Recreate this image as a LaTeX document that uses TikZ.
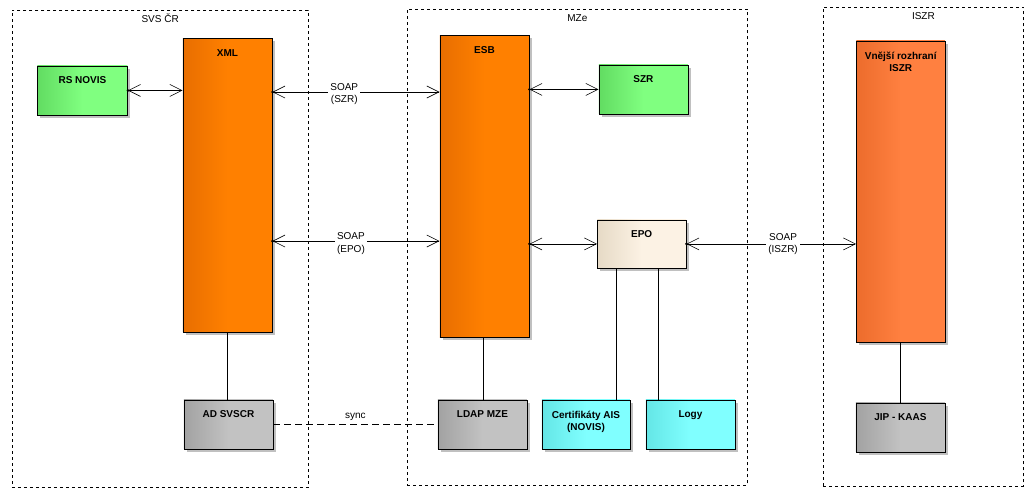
\documentclass[tikz,border=0pt]{standalone}
\usepackage{fontspec}
\setmainfont{Liberation Sans}
\usetikzlibrary{arrows.meta,shadows,calc}
\definecolor{grnL}{HTML}{62DC62}
\definecolor{grnR}{HTML}{80FF80}
\definecolor{orgL}{HTML}{E86E00}
\definecolor{orgR}{HTML}{FF8000}
\definecolor{iszL}{HTML}{EC6C2C}
\definecolor{iszR}{HTML}{FF8040}
\definecolor{begL}{HTML}{E6DAC6}
\definecolor{begR}{HTML}{FCF2E4}
\definecolor{gryL}{HTML}{A2A2A2}
\definecolor{gryR}{HTML}{C2C2C2}
\definecolor{cynL}{HTML}{64E6E6}
\definecolor{cynR}{HTML}{80FFFF}
\definecolor{shd}{HTML}{C0C0C0}
\begin{document}
\begin{tikzpicture}[x=1pt,y=-1pt,
  box/.style={draw,line width=0.9pt,anchor=north west,inner sep=0pt,
    drop shadow={shadow xshift=3pt,shadow yshift=-3pt,fill=shd,opacity=1}},
  lbl/.style={anchor=north,yshift=-11pt,inner sep=0pt,align=center,
    font=\fontsize{10}{12.6}\selectfont\bfseries},
  frame/.style={draw,dash pattern=on 3pt off 3pt,line width=0.8pt,anchor=north west,inner sep=0pt},
  flbl/.style={anchor=north,yshift=-6pt,inner sep=0pt,text height=7.2pt,text depth=0pt,
    font=\fontsize{10}{12}\selectfont},
  grn/.style={left color=grnL,right color=grnR,middle color=grnR},
  org/.style={left color=orgL,right color=orgR,middle color=orgR},
  isz/.style={left color=iszL,right color=iszR,middle color=iszR},
  beg/.style={left color=begL,right color=begR,middle color=begR},
  gry/.style={left color=gryL,right color=gryR,middle color=gryR},
  cyn/.style={left color=cynL,right color=cynR,middle color=cynR},
  barb/.tip={Straight Barb[length=12pt,width=12pt,line width=0.6pt]},
  assoc/.style={line width=0.8pt,barb-barb},
  link/.style={line width=0.8pt},
  syncline/.style={line width=0.8pt,dash pattern=on 7pt off 4pt},
  soap/.style={fill=white,inner xsep=2pt,inner ysep=1pt,align=center,
    font=\fontsize{10}{12.5}\selectfont},
  txt/.style={inner sep=0pt,font=\fontsize{10}{12}\selectfont}
]
\useasboundingbox (0,0) rectangle (1035,498);

% frames
\node[frame,minimum width=296.5pt,minimum height=477.5pt,label={[flbl]north:SVS ČR}] (svs) at (11.5,9.5) {};
\node[frame,minimum width=340pt,minimum height=476.5pt,label={[flbl]north:MZe}] (mze) at (407,8.5) {};
\node[frame,minimum width=200pt,minimum height=479.5pt,label={[flbl]north:ISZR}] (iszrf) at (823,6.5) {};

% components
\newcommand\comp[7]{\node[box,#6,minimum width=#4pt,minimum height=#5pt,label={[lbl]north:#7}] (#1) at (#2,#3) {};}
\comp{RS}{37}{65.5}{90}{49}{grn}{RS NOVIS}
\comp{XML}{182.5}{38}{89}{293.5}{org}{XML}
\comp{ESB}{439.5}{35}{89}{302}{org}{ESB}
\comp{SZR}{598.5}{64.5}{89}{49}{grn}{SZR}
\comp{EPO}{597}{219.5}{88.5}{48}{beg}{EPO}
\comp{ISZR}{856}{40.5}{88.5}{301}{isz}{Vnější rozhraní\\ISZR}
\comp{AD}{183.5}{399.5}{89}{49}{gry}{AD SVSCR}
\comp{LDAP}{437.5}{399.5}{89}{49}{gry}{LDAP MZE}
\comp{CERT}{541.5}{399.5}{88}{49}{cyn}{Certifikáty AIS\\(NOVIS)}
\comp{LOGY}{645.5}{399.5}{89}{49}{cyn}{Logy}
\comp{JIP}{855.5}{402.5}{89}{49}{gry}{JIP - KAAS}

\coordinate (ySZR) at (0,92);
\coordinate (yEPO) at (0,241);

% associations
\draw[assoc] (RS.east) -- (RS.east -| XML.west);
\fill (RS.east) circle (1.4pt);
\draw[assoc] (XML.east |- ySZR) -- node[soap,pos=0.43,yshift=-2pt] (l1) {SOAP\\(SZR)} (ESB.west |- ySZR);
\fill (XML.east |- ySZR) circle (1.4pt);
\draw[assoc] (ESB.east |- SZR.west) -- (SZR.west);
\fill (ESB.east |- SZR.west) circle (1.4pt);
\draw[assoc] (XML.east |- yEPO) -- node[soap,pos=0.47,yshift=-2.5pt] (l2) {SOAP\\(EPO)} (ESB.west |- yEPO);
\fill (XML.east |- yEPO) circle (1.4pt);
\draw[assoc] (ESB.east |- EPO.west) -- (EPO.west);
\fill (ESB.east |- EPO.west) circle (1.4pt);
\draw[assoc] (EPO.east) -- node[soap,pos=0.57] (l3) {SOAP\\(ISZR)} (EPO.east -| ISZR.west);
\fill (EPO.east) circle (1.4pt);

% links
\draw[link] (XML.south) -- (XML.south |- AD.north);
\draw[link] ([xshift=-0.7pt]ESB.south) -- ([xshift=-0.7pt]ESB.south |- LDAP.north);
\draw[link] ([xshift=19.7pt]EPO.south west) -- ([xshift=19.7pt]EPO.south west |- CERT.north);
\draw[link] ([xshift=61.3pt]EPO.south west) -- ([xshift=61.3pt]EPO.south west |- LOGY.north);
\draw[link] (ISZR.south) -- (ISZR.south |- JIP.north);
\draw[syncline] (AD.east) -- node[txt,midway,above=3pt] (ls) {sync} (AD.east -| LDAP.west);
\end{tikzpicture}
\end{document}
